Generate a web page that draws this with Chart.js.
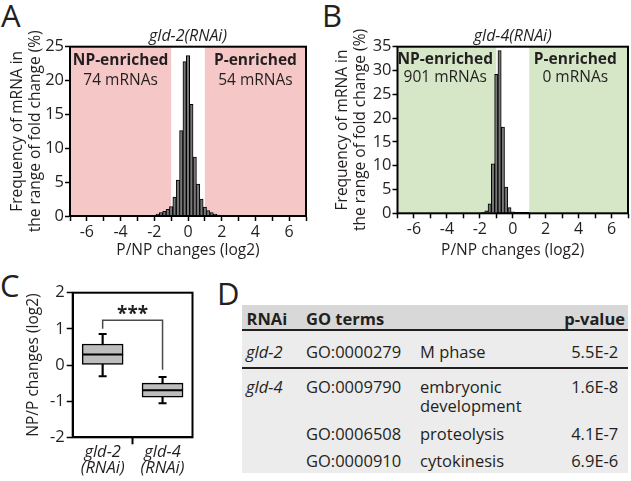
<!DOCTYPE html>
<html>
<head>
<meta charset="utf-8">
<script src="https://cdn.jsdelivr.net/npm/chart.js@4.4.1/dist/chart.umd.min.js"></script>
<style>
  html, body { margin: 0; padding: 0; background: #fff; }
  body { width: 631px; height: 481px; position: relative; overflow: hidden;
         font-family: "Open Sans", sans-serif; color: #231f20; }
  .pane { position: absolute; }
  .letter { position: absolute; font-size: 31px; line-height: 1; }
  .cell { position: absolute; font-size: 16.5px; line-height: 19px; white-space: pre; }
  .hd { font-weight: bold; }
  .it { font-style: italic; }
</style>
</head>
<body>
<div class="letter" style="left:1px;top:0">A</div>
<div class="letter" style="left:322px;top:0">B</div>
<div class="letter" style="left:0;top:270px">C</div>
<div class="letter" style="left:217px;top:278px">D</div>

<div class="pane" style="left:0;top:0"><canvas id="histA" width="315" height="262"></canvas></div>
<div class="pane" style="left:315px;top:0"><canvas id="histB" width="316" height="262"></canvas></div>
<div class="pane" style="left:0;top:270px"><canvas id="boxC" width="215" height="210"></canvas></div>
<div id="tableD"></div>

<script>
// histogram bins (centre of each 0.2 log2 bin) and frequencies (%)
const binsA = [-1.8, -1.6, -1.4, -1.2, -1.0, -0.8, -0.6, -0.4, -0.2, 0, 0.2, 0.4, 0.6, 0.8, 1.0, 1.2, 1.4, 1.6, 1.8];
const freqA = [0.3, 0.5, 0.7, 1.0, 1.4, 2.8, 5.3, 12.6, 22.8, 23.7, 16.5, 8.7, 4.7, 2.5, 1.3, 0.8, 0.5, 0.3, 0.15];
const binsB = [-2.0, -1.8, -1.6, -1.4, -1.2, -1.0, -0.8, -0.6, -0.4, -0.2, 0, 0.2];
const freqB = [0.1, 0.2, 0.5, 2.0, 10.4, 29.2, 34.2, 18.1, 5.5, 1.2, 0.3, 0.1];

const histTitles = ['gld-2(RNAi)', 'gld-4(RNAi)'];
const npCounts = [74, 901];
const pCounts = [54, 0];
const enrichCut = 1;          // |log2| above this is enriched
const xRange = [-7, 7];
const yMaxHist = [25, 35];

// box plot (NP/P changes, log2)
const boxGroups = [['gld-2', '(RNAi)'], ['gld-4', '(RNAi)']];
const boxMin = [-0.31, -1.06];
const boxQ1 = [0.0, -0.89];
const boxMedian = [0.29, -0.70];
const boxQ3 = [0.58, -0.50];
const boxMax = [0.86, -0.33];
const bracketY = [1.0, 1.24, -0.13];   // left foot, top, right foot
const sigLabel = '***';
const sigY = 1.5;

// GO table
const goRnai = ['gld-2', 'gld-4', '', ''];
const goIds = ['GO:0000279', 'GO:0009790', 'GO:0006508', 'GO:0000910'];
const goTerms = ['M phase', 'embryonic\ndevelopment', 'proteolysis', 'cytokinesis'];
const goPvals = ['5.5E-2', '1.6E-8', '4.1E-7', '6.9E-6'];

const INK = '#231f20';
const FONT = '"Open Sans", sans-serif';
Chart.defaults.font.family = FONT;
Chart.defaults.color = INK;
Chart.defaults.animation = false;

var frame = {
    id: 'frame',
    afterDatasetsDraw: function (chart) {
        const a = chart.chartArea;
        const ctx = chart.ctx;
        ctx.save();
        ctx.strokeStyle = '#000';
        ctx.lineWidth = 2;
        ctx.strokeRect(a.left, a.top, a.right - a.left, a.bottom - a.top);
        ctx.restore();
    }
};

var shade = {
    id: 'shade',
    beforeDatasetsDraw: function (chart, args, opts) {
        const a = chart.chartArea;
        const x = chart.scales.x;
        const ctx = chart.ctx;
        ctx.save();
        ctx.fillStyle = opts.color;
        let l = x.getPixelForValue(x.min), r = x.getPixelForValue(-enrichCut);
        ctx.fillRect(l, a.top, r - l, a.bottom - a.top);
        l = x.getPixelForValue(enrichCut);
        r = x.getPixelForValue(x.max);
        ctx.fillRect(l, a.top, r - l, a.bottom - a.top);
        ctx.restore();
    }
};

var regionText = {
    id: 'regionText',
    afterDatasetsDraw: function (chart, args, o) {
        const a = chart.chartArea;
        const x = chart.scales.x;
        const ctx = chart.ctx;
        ctx.save();
        ctx.fillStyle = INK;
        ctx.textAlign = 'center';
        ctx.textBaseline = 'middle';
        o.items.forEach(function (it) {
            const px = x.getPixelForValue(it.at);
            ctx.font = 'bold 15.5px ' + FONT;
            ctx.fillText(it.head, px, a.top + o.dy[0]);
            ctx.font = '15.5px ' + FONT;
            ctx.fillText(it.sub, px, a.top + o.dy[1]);
        });
        ctx.restore();
    }
};

function histChart(id, bins, freq, k, opt) {
    const data = bins.map(function (b, i) { return {x: b, y: freq[i]}; });
    return new Chart(document.getElementById(id), {
        type: 'bar',
        data: {
            datasets: [{
                data: data,
                backgroundColor: '#777',
                borderColor: '#000',
                borderWidth: 1,
                categoryPercentage: 1,
                barPercentage: 1
            }]
        },
        options: {
            responsive: false,
            layout: {padding: {top: 0, right: opt.padRight, left: 0, bottom: 0}},
            plugins: {
                legend: {display: false},
                tooltip: {enabled: false},
                title: {
                    display: true,
                    text: histTitles[k],
                    fullSize: false,
                    font: {size: 16, style: 'italic', weight: 'normal'},
                    padding: {top: 26.5, bottom: 1},
                    color: INK
                },
                shade: {color: opt.shade},
                regionText: {
                    dy: opt.dy,
                    items: [
                        {at: opt.at[0], head: 'NP-enriched', sub: npCounts[k] + ' mRNAs'},
                        {at: opt.at[1], head: 'P-enriched', sub: pCounts[k] + ' mRNAs'}
                    ]
                }
            },
            scales: {
                x: {
                    type: 'linear',
                    min: xRange[0],
                    max: xRange[1],
                    offset: false,
                    grid: {offset: false, drawOnChartArea: false, tickLength: 5, tickWidth: 1.5, tickColor: '#000'},
                    border: {color: '#000', width: 2},
                    ticks: {
                        stepSize: 1,
                        autoSkip: false,
                        maxRotation: 0,
                        padding: 1.5,
                        font: {size: 16},
                        callback: function (v) { return v % 2 === 0 ? String(v) : ''; }
                    },
                    title: {display: true, text: 'P/NP changes (log2)', font: {size: 15.5, lineHeight: 1.16}, padding: {top: 0, bottom: 2.5}},
                    afterFit: function (s) { s.height = opt.xh; }
                },
                y: {
                    min: 0,
                    max: yMaxHist[k],
                    grid: {drawOnChartArea: false, tickLength: 5, tickWidth: 1.5, tickColor: '#000'},
                    border: {color: '#000', width: 2},
                    ticks: {stepSize: 5, padding: 1, font: {size: 16.5}},
                    title: {
                        display: true,
                        text: ['Frequency of mRNA in', 'the range of fold change (%)'],
                        font: {size: 15.5, lineHeight: 1.16},
                        padding: {top: opt.ytp, bottom: 0}
                    },
                    afterFit: function (s) { s.width = opt.yw; }
                }
            }
        },
        plugins: [shade, frame, regionText]
    });
}

histChart('histA', binsA, freqA, 0, {
    padRight: 9, xh: 46, yw: 70, ytp: 8.5,
    shade: '#f5c7c7', at: [-4, 4], dy: [13.5, 33.5]
});
histChart('histB', binsB, freqB, 1, {
    padRight: 3, xh: 48.7, yw: 82.5, ytp: 19,
    shade: '#d6e7c8', at: [-4.1, 3.8], dy: [13, 30.5]
});

// box plot panel
var bracket = {
    id: 'bracket',
    afterDatasetsDraw: function (chart) {
        const x = chart.scales.x, y = chart.scales.y, ctx = chart.ctx;
        const x0 = x.getPixelForValue(0), x1 = x.getPixelForValue(1);
        ctx.save();
        ctx.strokeStyle = '#4a4a4a';
        ctx.lineWidth = 1.5;
        ctx.beginPath();
        ctx.moveTo(x0, y.getPixelForValue(bracketY[0]));
        ctx.lineTo(x0, y.getPixelForValue(bracketY[1]));
        ctx.lineTo(x1, y.getPixelForValue(bracketY[1]));
        ctx.lineTo(x1, y.getPixelForValue(bracketY[2]));
        ctx.stroke();
        ctx.fillStyle = INK;
        ctx.font = 'bold 19px ' + FONT;
        ctx.textAlign = 'center';
        ctx.textBaseline = 'middle';
        ctx.fillText(sigLabel, (x0 + x1) / 2, y.getPixelForValue(sigY) + 4);
        ctx.restore();
    }
};

new Chart(document.getElementById('boxC'), {
    type: 'bar',
    data: {
        labels: boxGroups,
        datasets: [
            {
                type: 'line', data: boxMedian, showLine: false,
                pointStyle: 'line', pointRadius: 20.5, pointBorderWidth: 2, pointBorderColor: '#000', order: 1
            },
            {
                type: 'line', data: boxMin, showLine: false,
                pointStyle: 'line', pointRadius: 4, pointBorderWidth: 2, pointBorderColor: '#000', order: 1
            },
            {
                type: 'line', data: boxMax, showLine: false,
                pointStyle: 'line', pointRadius: 4, pointBorderWidth: 2, pointBorderColor: '#000', order: 1
            },
            {
                data: boxQ1.map(function (q, i) { return [q, boxQ3[i]]; }),
                backgroundColor: '#bdbdbd', borderColor: '#000', borderWidth: 1.5,
                borderSkipped: false, barThickness: 41, grouped: false, order: 2
            },
            {
                data: boxMin.map(function (m, i) { return [m, boxMax[i]]; }),
                backgroundColor: '#000', borderWidth: 0,
                barThickness: 1.5, grouped: false, order: 3
            }
        ]
    },
    options: {
        responsive: false,
        layout: {padding: {top: 22.7, right: 7.7, left: 0, bottom: 0}},
        plugins: {legend: {display: false}, tooltip: {enabled: false}},
        scales: {
            x: {
                grid: {
                    offset: true, drawOnChartArea: false, tickLength: 7, tickWidth: 2,
                    tickColor: function (c) { return c.index === 1 ? '#000' : 'rgba(0,0,0,0)'; }
                },
                border: {color: '#000', width: 2},
                ticks: {padding: 0, maxRotation: 0, font: {size: 16.5, style: 'italic', lineHeight: 0.95}},
                afterFit: function (s) { s.height = 42.7; }
            },
            y: {
                min: -2,
                max: 2,
                grid: {drawOnChartArea: false, tickLength: 6, tickWidth: 1.5, tickColor: '#000'},
                border: {color: '#000', width: 2},
                ticks: {stepSize: 1, padding: 2, font: {size: 16.5}},
                title: {display: true, text: 'NP/P changes (log2)', font: {size: 15.5, lineHeight: 1.16}, padding: {top: 25, bottom: 0}},
                afterFit: function (s) { s.width = 72.7; }
            }
        }
    },
    plugins: [frame, bracket]
});

// GO term table
(function () {
    const host = document.getElementById('tableD');
    function add(cls, style, text) {
        const d = document.createElement('div');
        d.className = cls;
        d.setAttribute('style', style);
        d.textContent = text;
        host.appendChild(d);
        return d;
    }
    add('pane', 'left:241.7px;top:305px;width:386.3px;height:168px;background:#ececec', '');
    add('pane', 'left:241.7px;top:305px;width:386.3px;height:25px;background:#d8d8d8', '');
    add('pane', 'left:241.7px;top:329px;width:386.3px;height:2px;background:' + INK, '');
    add('pane', 'left:241.7px;top:367.3px;width:386.3px;height:2px;background:' + INK, '');

    add('cell hd', 'left:246.5px;top:308.8px', 'RNAi');
    add('cell hd', 'left:306px;top:308.8px', 'GO terms');
    add('cell hd', 'right:6px;top:308.8px;text-align:right', 'p-value');

    const rowTop = [342.2, 377.2, 423.8, 450.5];
    goIds.forEach(function (id, i) {
        if (goRnai[i]) add('cell it', 'left:246px;top:' + rowTop[i] + 'px', goRnai[i]);
        add('cell', 'left:306px;top:' + rowTop[i] + 'px', id);
        add('cell', 'left:420px;top:' + rowTop[i] + 'px', goTerms[i]);
        add('cell', 'right:12.7px;top:' + rowTop[i] + 'px;text-align:right', goPvals[i]);
    });
})();
</script>
</body>
</html>
